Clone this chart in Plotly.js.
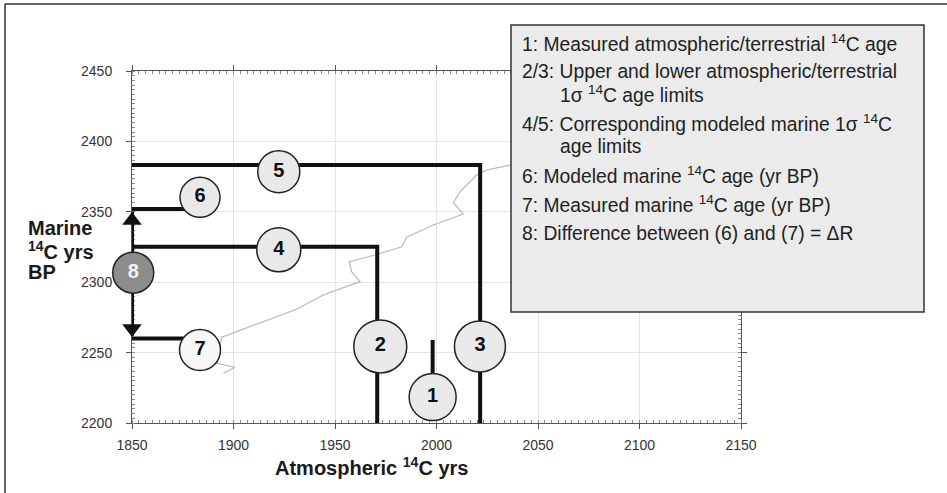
<!DOCTYPE html>
<html>
<head>
<meta charset="utf-8">
<script src="https://cdn.plot.ly/plotly-3.0.1.min.js"></script>
<style>html,body{margin:0;padding:0;background:#fff;}#chart{width:947px;height:493px;}</style>
</head>
<body>
<div id="chart"></div>
<script>
// ---- data ----
const xRange = [1850, 2150];
const yRange = [2200, 2450];
const xTicks = [1850, 1900, 1950, 2000, 2050, 2100, 2150];
const yTicks = [2200, 2250, 2300, 2350, 2400, 2450];

// thin calibration curve (atmospheric 14C yrs vs marine 14C yrs BP)
const curveX = [1895.0, 1900.7, 1891.7, 1894.2, 1931.1, 1944.2, 1962.3, 1958.2, 1957.0, 1969.7, 1982.9, 1985.3, 1998.4, 2013.2, 2008.3, 2011.6, 2019.8, 2024.7, 2036.2, 2046.0];
const curveY = [2235.3, 2239.6, 2242.4, 2260.9, 2280.8, 2290.9, 2300.4, 2307.5, 2314.6, 2319.3, 2325.2, 2331.9, 2340.6, 2348.4, 2356.5, 2364.3, 2376.1, 2379.7, 2383.2, 2386.8];

// construction lines
const line53X = [1850, 2021.5, 2021.5];
const line53Y = [2383.3, 2383.3, 2200];
const line42X = [1850, 1970.8, 1970.8];
const line42Y = [2325.1, 2325.1, 2200];
const line6X = [1850, 1883.5];
const line6Y = [2352, 2352];
const line7X = [1850, 1883.5];
const line7Y = [2260, 2260];
const line1X = [1998.1, 1998.1];
const line1Y = [2259, 2218.4];
const line8X = [1850, 1850];
const line8Y = [2262, 2350];

// arrow heads on the ΔR bracket
const arrowX = [1850, 1850];
const arrowY = [2343.8, 2267.1];

// numbered labels
const labelText = ['1', '2', '3', '4', '5', '6', '7', '8'];
const labelX = [1998.1, 1972.3, 2021.4, 1922.3, 1922.3, 1883.5, 1883.5, 1850.6];
const labelY = [2218.4, 2254.4, 2254.4, 2323.0, 2378.5, 2360.3, 2251.8, 2306.8];

const legendLines = [
  '1: Measured atmospheric/terrestrial <sup>14</sup>C age',
  '2/3: Upper and lower atmospheric/terrestrial',
  '1σ <sup>14</sup>C age limits',
  '4/5: Corresponding modeled marine 1σ <sup>14</sup>C',
  'age limits',
  '6: Modeled marine <sup>14</sup>C age (yr BP)',
  '7: Measured marine <sup>14</sup>C age (yr BP)',
  '8: Difference between (6) and (7) = ΔR'
];

// ---- layout helpers (pixel -> paper) ----
const ML = 132, MR = 206, MT = 71, MB = 70, W = 947, H = 493;
const PW = W - ML - MR, PH = H - MT - MB;
const px = v => (v - ML) / PW;
const py = v => (H - MB - v) / PH;

const FONT = 'Liberation Sans, Arial, Helvetica, sans-serif';
const thick = {color: '#111', width: 4};
const lineTrace = (x, y, style) => ({x: x, y: y, mode: 'lines', line: style, hoverinfo: 'skip', cliponaxis: false});

const traces = [
  lineTrace(curveX, curveY, {color: '#b8b8b8', width: 1.2}),
  lineTrace(line53X, line53Y, thick),
  lineTrace(line42X, line42Y, thick),
  lineTrace(line6X, line6Y, thick),
  lineTrace(line7X, line7Y, thick),
  lineTrace(line1X, line1Y, thick),
  lineTrace(line8X, line8Y, thick),
  {x: arrowX, y: arrowY, mode: 'markers', hoverinfo: 'skip', cliponaxis: false,
   marker: {symbol: ['triangle-up', 'triangle-down'], size: 17, color: '#111', line: {width: 0}}},
  {x: labelX, y: labelY, text: labelText, mode: 'markers+text', textposition: 'middle center', hoverinfo: 'skip', cliponaxis: false,
   marker: {size: [47, 53, 51, 44, 42, 40, 41, 41],
            color: ['#e9e9e9', '#e9e9e9', '#e9e9e9', '#e9e9e9', '#e9e9e9', '#e9e9e9', '#f7f7f7', '#8c8c8c'],
            line: {color: '#222', width: 1.5}, opacity: 1},
   textfont: {family: FONT, size: 20, weight: 'bold', color: ['#111', '#111', '#111', '#111', '#111', '#111', '#111', '#f4f4f4']}}
];

const legendY = [43, 72, 94, 123, 146, 175, 204, 233];
const legendXpx = [520, 520, 558, 520, 558, 520, 520, 520];
const annotations = legendLines.map((t, i) => ({
  text: t, xref: 'paper', yref: 'paper', x: px(legendXpx[i]), y: py(legendY[i]),
  xanchor: 'left', yanchor: 'middle', showarrow: false,
  font: {family: FONT, size: 19.3, color: '#222'}
}));

const titleFont = {family: FONT, size: 20, color: '#1a1a1a', weight: 'bold'};
annotations.push(
  {text: 'Atmospheric <sup>14</sup>C yrs', xref: 'paper', yref: 'paper', x: px(371), y: py(466), xanchor: 'center', yanchor: 'middle', showarrow: false, font: titleFont},
  {text: 'Marine', xref: 'paper', yref: 'paper', x: px(26), y: py(228), xanchor: 'left', yanchor: 'middle', showarrow: false, font: titleFont},
  {text: '<sup>14</sup>C yrs', xref: 'paper', yref: 'paper', x: px(26), y: py(250), xanchor: 'left', yanchor: 'middle', showarrow: false, font: titleFont},
  {text: 'BP', xref: 'paper', yref: 'paper', x: px(26), y: py(272), xanchor: 'left', yanchor: 'middle', showarrow: false, font: titleFont}
);

const axisCommon = {
  autorange: false, layer: 'below traces',
  showline: true, linecolor: '#555', linewidth: 1, mirror: 'allticks',
  ticks: 'outside', ticklen: 5, tickcolor: '#555', tickwidth: 1,
  showgrid: true, gridcolor: '#e4e4e4', gridwidth: 1, zeroline: false,
  tickfont: {family: FONT, size: 14, color: '#333'},
  minor: {ticks: 'inside', ticklen: 3, tickcolor: '#888', tickwidth: 1, dtick: 10 / 3, showgrid: false}
};

const layout = {
  width: W, height: H,
  margin: {l: ML, r: MR, t: MT, b: MB, pad: 0},
  paper_bgcolor: '#fff', plot_bgcolor: '#fff',
  showlegend: false,
  xaxis: Object.assign({}, axisCommon, {range: xRange, tickvals: xTicks, ticktext: xTicks.map(String), ticklabelstandoff: 4,
    minor: Object.assign({}, axisCommon.minor, {tick0: 1850})}),
  yaxis: Object.assign({}, axisCommon, {range: yRange, tickvals: yTicks, ticktext: yTicks.map(String), ticklabelstandoff: 11,
    minor: Object.assign({}, axisCommon.minor, {tick0: 2200})}),
  shapes: [
    {type: 'rect', xref: 'paper', yref: 'paper', x0: px(511), x1: px(924), y0: py(312), y1: py(25),
     fillcolor: '#ebebeb', line: {color: '#333', width: 1.5}, layer: 'above'},
    {type: 'line', xref: 'paper', yref: 'paper', x0: px(5), x1: px(947), y0: py(4), y1: py(4), line: {color: '#333', width: 1.5}, layer: 'above'},
    {type: 'line', xref: 'paper', yref: 'paper', x0: px(5), x1: px(5), y0: py(4), y1: py(493), line: {color: '#333', width: 1.5}, layer: 'above'}
  ],
  annotations: annotations
};

Plotly.newPlot('chart', traces, layout, {displayModeBar: false, staticPlot: true});
</script>
</body>
</html>
